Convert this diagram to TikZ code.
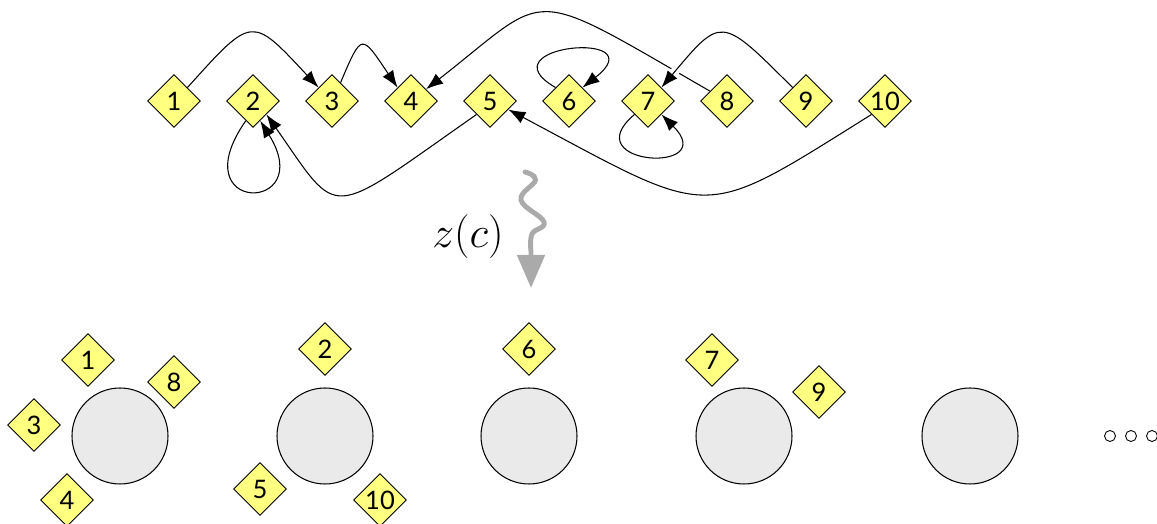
\documentclass[tikz,border=0pt]{standalone}
\usepackage{fontspec}
\newfontfamily\cardfont{Lato}
\usetikzlibrary{shapes.geometric,arrows.meta}

\definecolor{cardyellow}{RGB}{255,255,128}
\definecolor{tablegray}{RGB}{234,234,234}
\definecolor{wavegray}{RGB}{170,170,170}

\tikzset{
  card/.style={diamond, draw, line width=0.5pt, fill=cardyellow, minimum size=1.06cm, inner sep=0pt,
    font=\cardfont\fontsize{14.5}{14.5}\selectfont},
  tablenode/.style={circle, draw, semithick, fill=tablegray, minimum size=1.92cm, inner sep=0pt},
  moredot/.style={circle, draw, line width=0.5pt, minimum size=0.22cm, inner sep=0pt},
  link/.style={->, semithick},
  wave/.style={-{Triangle[length=6.6mm,width=5.4mm]}, wavegray, line width=2.8pt, line cap=round}
}

\begin{document}
\begin{tikzpicture}[>={Latex[length=3.4mm,width=2.5mm]}]
\useasboundingbox (0,0) rectangle (23.14,10.48);

% the ten customers and their links
\foreach \i in {1,...,10}
  \node[card] (n\i) at ({3.48+1.58*(\i-1)},8.46) {\i};

\draw [link] (n1.north east) to[out=48,in=133,out distance=1.95cm,in distance=1.97cm] (n3.north west);
\draw [link] (n3.65) to[out=67,in=124,out distance=1.1cm,in distance=1.3cm] (n4.north west);
\draw [link] (n8) to[out=150,in=38,out distance=4.3cm,in distance=3.2cm] (n4);
\draw [link, preaction={draw=white, line width=5pt, -, shorten <=4mm, shorten >=4mm}]
  (n9.north west) to[out=135,in=50,out distance=2.03cm,in distance=1.87cm] (n7.north east);
\draw [link] (n6.north west) to[out=150,in=38,out distance=1.7cm,in distance=1.9cm] (n6.north east);
\draw [link] (n7.south west) to[out=-140,in=-45,out distance=1.6cm,in distance=1.7cm] (n7.south east);
\draw [link] (n2.250) to[out=-125,in=-58,out distance=2.3cm,in distance=2.2cm] (n2.-70);
\draw [link] (n5.south west) to[out=-145,in=-55,out distance=3.7cm,in distance=2.6cm] (n2.south east);
\draw [link] (n10.south west) to[out=-148,in=-28,out distance=4.1cm,in distance=4.7cm] (n5.-25);

% z(c)
\draw [wave] plot[smooth, tension=0.7] coordinates {(10.50,7.04) (10.71,6.88) (10.42,6.48) (10.88,6.04) (10.64,5.80) (10.62,5.45)} -- (10.62,4.72);
\node (zlabel) at (9.36,5.74) {\fontsize{24}{28}\selectfont $z(c)$};

% tables
\node[tablenode] (table1) at (2.40,1.76) {};
\node[tablenode] (table2) at (6.50,1.76) {};
\node[tablenode] (table3) at (10.58,1.76) {};
\node[tablenode] (table4) at (14.88,1.76) {};
\node[tablenode] (table5) at (19.40,1.76) {};
\foreach \x [count=\k] in {22.20,22.62,23.04}
  \node[moredot] (more\k) at (\x,1.76) {};

\node[card] (s1) at (1.76,3.28) {1};
\node[card] (s8) at (3.48,2.84) {8};
\node[card] (s3) at (0.68,1.98) {3};
\node[card] (s4) at (1.34,0.48) {4};
\node[card] (s2) at (6.50,3.50) {2};
\node[card] (s5) at (5.20,0.70) {5};
\node[card] (s10) at (7.60,0.48) {10};
\node[card] (s6) at (10.58,3.50) {6};
\node[card] (s7) at (14.24,3.28) {7};
\node[card] (s9) at (16.38,2.64) {9};
\end{tikzpicture}
\end{document}
